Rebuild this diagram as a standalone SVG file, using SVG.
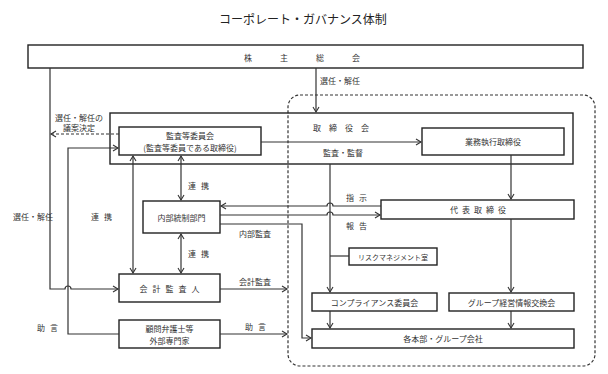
<svg xmlns="http://www.w3.org/2000/svg" width="608" height="374" viewBox="0 0 608 374">
<style>
  text { font-family: "Noto Sans CJK JP", "Noto Sans", sans-serif; fill: #333; font-size: 8px; text-anchor: middle; dominant-baseline: central; }
  .title { font-size: 12px; fill: #222; }
  .box { fill: #fff; stroke: #222; stroke-width: 1.4; }
  .frame { fill: none; stroke: #222; stroke-width: 1.4; }
  .ln { fill: none; stroke: #333; stroke-width: 1.2; }
  .dash { fill: none; stroke: #333; stroke-width: 1.2; stroke-dasharray: 3 2; }
</style>
<defs>
  <marker id="ah" markerUnits="userSpaceOnUse" markerWidth="8" markerHeight="8" refX="6" refY="4" orient="auto-start-reverse">
    <path d="M1,1 L6,4 L1,7" fill="none" stroke="#333" stroke-width="1.1"/>
  </marker>
</defs>
<rect width="608" height="374" fill="#fff"/>
<text class="title" x="303" y="18">コーポレート・ガバナンス体制</text>

<rect class="dash" x="288" y="95" width="307" height="271" rx="12"/>

<g id="shareholders">
  <rect class="box" x="28" y="45" width="555" height="23"/>
  <text x="316" y="57" style="letter-spacing:28px">株主総会</text>
</g>
<g id="board">
  <rect class="frame" x="110" y="113" width="463" height="51"/>
  <text x="345" y="127" style="letter-spacing:8px">取締役会</text>
</g>
<g id="audit-committee">
  <rect class="box" x="119" y="127" width="142" height="28"/>
  <text x="190" y="135">監査等委員会</text>
  <text x="190" y="147">(監査等委員である取締役)</text>
</g>
<g id="executive">
  <rect class="box" x="422" y="128" width="142" height="27"/>
  <text x="493" y="141.5">業務執行取締役</text>
</g>
<g id="internal-control">
  <rect class="box" x="143" y="201" width="77" height="32"/>
  <text x="181.5" y="217">内部統制部門</text>
</g>
<g id="representative">
  <rect class="box" x="381" y="200" width="193" height="19"/>
  <text x="480" y="209.5" style="letter-spacing:4px">代表取締役</text>
</g>
<g id="risk-management">
  <rect class="box" x="349" y="248" width="88" height="17"/>
  <text x="393" y="256.5" style="font-size:7px">リスクマネジメント室</text>
</g>
<g id="accounting-auditor">
  <rect class="box" x="119" y="274" width="101" height="28"/>
  <text x="172" y="288" style="letter-spacing:5px">会計監査人</text>
</g>
<g id="compliance">
  <rect class="box" x="312" y="293" width="125" height="18"/>
  <text x="374.5" y="302">コンプライアンス委員会</text>
</g>
<g id="group-info">
  <rect class="box" x="449" y="293" width="125" height="18"/>
  <text x="511.5" y="302">グループ経営情報交換会</text>
</g>
<g id="advisors">
  <rect class="box" x="119" y="320" width="101" height="28"/>
  <text x="169.5" y="328">顧問弁護士等</text>
  <text x="169.5" y="340">外部専門家</text>
</g>
<g id="divisions">
  <rect class="box" x="312" y="329" width="262" height="19"/>
  <text x="443" y="338.5">各本部・グループ会社</text>
</g>

<g id="connectors">
  <path class="ln" d="M316,68 V112" marker-end="url(#ah)"/>
  <path class="ln" d="M50,68 V289 H65 A3,3 0 0 1 71,289 H118" marker-end="url(#ah)"/>
  <path class="dash" d="M119,134 H51" marker-end="url(#ah)"/>
  <path class="ln" d="M119,334 H68 V148 H118" marker-end="url(#ah)"/>
  <path class="ln" d="M133,156 V273" marker-start="url(#ah)" marker-end="url(#ah)"/>
  <path class="ln" d="M181,156 V200" marker-start="url(#ah)" marker-end="url(#ah)"/>
  <path class="ln" d="M181,234 V273" marker-start="url(#ah)" marker-end="url(#ah)"/>
  <path class="ln" d="M261,142 H421" marker-end="url(#ah)"/>
  <path class="ln" d="M381,206 H333 A3,3 0 0 0 327,206 H221" marker-end="url(#ah)"/>
  <path class="ln" d="M220,215 H327 A3,3 0 0 1 333,215 H380" marker-end="url(#ah)"/>
  <path class="ln" d="M220,224 H302 V338 H311" marker-end="url(#ah)"/>
  <path class="ln" d="M330,164 V292" marker-end="url(#ah)"/>
  <path class="ln" d="M330,256 H349"/>
  <path class="ln" d="M511,155 V199" marker-end="url(#ah)"/>
  <path class="ln" d="M511,219 V292" marker-end="url(#ah)"/>
  <path class="ln" d="M330,311 V328" marker-end="url(#ah)"/>
  <path class="ln" d="M511,311 V328" marker-end="url(#ah)"/>
  <path class="ln" d="M220,289 H287" marker-end="url(#ah)"/>
  <path class="ln" d="M220,334 H287" marker-end="url(#ah)"/>
</g>

<g id="labels">
  <text x="340" y="80">選任・解任</text>
  <text x="79" y="117">選任・解任の</text>
  <text x="79" y="127">議案決定</text>
  <text x="343" y="152">監査・監督</text>
  <text x="201" y="185" style="letter-spacing:5px">連携</text>
  <text x="33" y="216">選任・解任</text>
  <text x="104" y="216" style="letter-spacing:5px">連携</text>
  <text x="359" y="197" style="letter-spacing:5px">指示</text>
  <text x="359" y="225" style="letter-spacing:5px">報告</text>
  <text x="255" y="233">内部監査</text>
  <text x="201" y="253" style="letter-spacing:5px">連携</text>
  <text x="255" y="281">会計監査</text>
  <text x="50" y="327" style="letter-spacing:5px">助言</text>
  <text x="258" y="326" style="letter-spacing:5px">助言</text>
</g>
</svg>
